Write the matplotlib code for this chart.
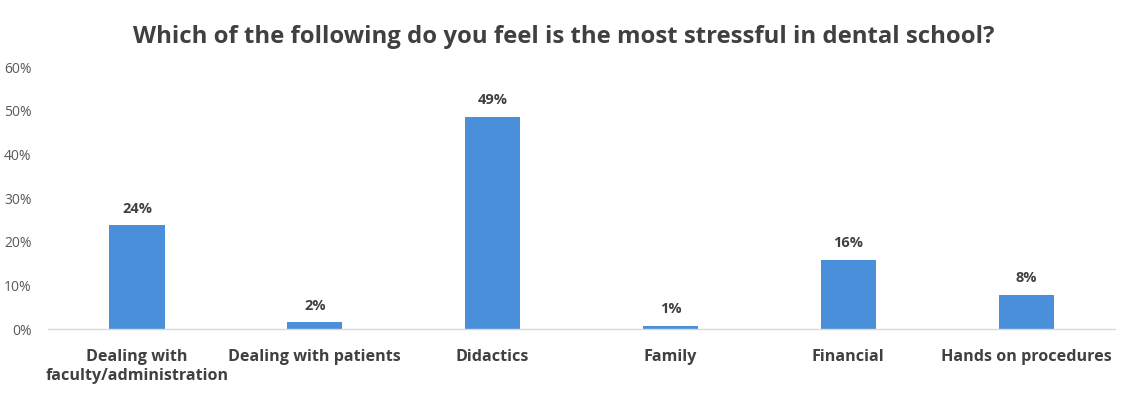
import matplotlib
matplotlib.use("Agg")
import matplotlib.pyplot as plt
from matplotlib.ticker import FuncFormatter

# Survey data (percent)
categories = ["Dealing with\nfaculty/administration", "Dealing with patients",
              "Didactics", "Family", "Financial", "Hands on procedures"]
values = [23.8, 1.6, 48.6, 0.8, 15.9, 7.9]
y_ticks = [0, 10, 20, 30, 40, 50, 60]

title = "Which of the following do you feel is the most stressful in dental school?"
bar_color = "#4a8fd9"
text_color = "#404040"
tick_color = "#595959"

plt.rcParams["font.family"] = ["Open Sans", "DejaVu Sans"]

fig = plt.figure(figsize=(11.28, 3.97), dpi=100)
ax = fig.add_axes([0.0426, 0.171, 0.946, 0.66])

x = range(len(categories))
ax.bar(x, values, width=0.31, color=bar_color)

# value labels above bars
for xi, v in zip(x, values):
    ax.text(xi, v + 2.2, f"{round(v)}%", ha="center", va="bottom",
            fontsize=10.5, fontweight="bold", color=text_color)

ax.set_xlim(-0.5, len(categories) - 0.5)
ax.set_ylim(0, 60)
ax.set_yticks(y_ticks)
ax.yaxis.set_major_formatter(FuncFormatter(lambda v, p: f"{int(v)}%"))
ax.set_xticks(list(x))
ax.set_xticklabels(categories, fontsize=11.6, fontweight="bold", color=text_color,
                   linespacing=1.25, va="top")

ax.tick_params(axis="y", length=0, labelsize=10, labelcolor=tick_color, pad=12)
ax.tick_params(axis="x", length=0, pad=14)

for side in ["top", "right", "left"]:
    ax.spines[side].set_visible(False)
ax.spines["bottom"].set_color("#d9d9d9")
ax.spines["bottom"].set_linewidth(1)

fig.text(0.5, 0.907, title, ha="center", va="center", fontsize=17.2,
         fontweight="bold", color=text_color)

fig.savefig("out.png", dpi=100, facecolor="white")
